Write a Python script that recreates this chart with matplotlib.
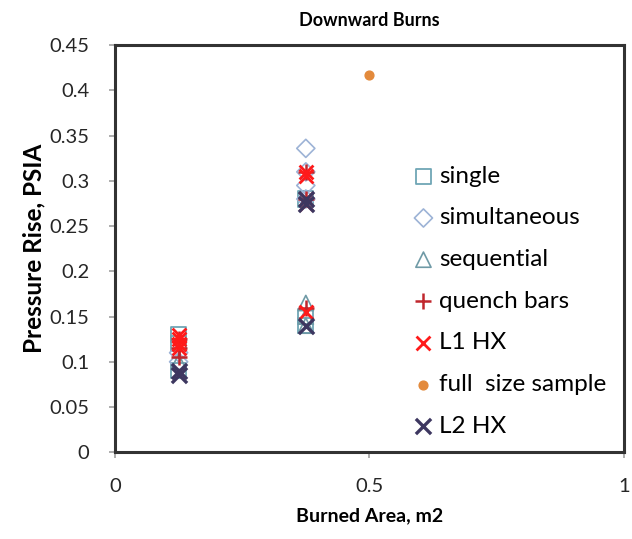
import matplotlib.pyplot as plt
import numpy as np

plt.rcParams['font.family'] = ['Lato', 'DejaVu Sans']

# series values (burned area m2, pressure rise psia)
single_x = [0.125, 0.125, 0.125, 0.375, 0.375, 0.375]
single_y = [0.13, 0.12, 0.09, 0.14, 0.15, 0.28]
simul_x = [0.125, 0.125, 0.375, 0.375, 0.375, 0.375]
simul_y = [0.11, 0.10, 0.336, 0.295, 0.28, 0.31]
seq_x = [0.125, 0.375, 0.375, 0.375]
seq_y = [0.10, 0.165, 0.14, 0.15]
quench_x = [0.125, 0.125, 0.125, 0.375, 0.375, 0.375]
quench_y = [0.125, 0.115, 0.105, 0.16, 0.31, 0.28]
l1_x = [0.125, 0.125, 0.125, 0.125, 0.375, 0.375, 0.375, 0.375, 0.375]
l1_y = [0.13, 0.125, 0.12, 0.115, 0.31, 0.305, 0.275, 0.28, 0.155]
full_x = [0.5]
full_y = [0.417]
l2_x = [0.125, 0.125, 0.375, 0.375, 0.375]
l2_y = [0.09, 0.085, 0.275, 0.28, 0.14]

fig = plt.figure(figsize=(6.32, 5.39), dpi=100)
ax = fig.add_axes([0.182, 0.161, 0.805, 0.755])

ax.scatter(single_x, single_y, marker='s', s=120, facecolors='none',
           edgecolors='#6fa6b5', linewidths=1.3, label='single')
ax.scatter(simul_x, simul_y, marker='D', s=85, facecolors='none',
           edgecolors='#9db3d6', linewidths=1.2, label='simultaneous')
ax.scatter(seq_x, seq_y, marker='^', s=120, facecolors='none',
           edgecolors='#6f9aa6', linewidths=1.2, label='sequential')
ax.scatter(quench_x, quench_y, marker='+', s=120, color='#c0272d',
           linewidths=1.8, label='quench bars')
ax.scatter(l1_x, l1_y, marker='x', s=100, color='#ff1a1a',
           linewidths=2.0, label='L1 HX')
ax.scatter(full_x, full_y, marker='o', s=40, color='#e38a3c',
           label='full  size sample')
ax.scatter(l2_x, l2_y, marker='x', s=120, color='#3d3760',
           linewidths=2.4, label='L2 HX')

ax.set_xlim(0, 1)
ax.set_ylim(0, 0.45)
ax.set_xticks([0, 0.5, 1])
ax.set_xticklabels(['0', '0.5', '1'])
ax.set_yticks(np.arange(0, 0.46, 0.05))
ax.set_yticklabels(['0', '0.05', '0.1', '0.15', '0.2', '0.25', '0.3',
                    '0.35', '0.4', '0.45'])
ax.tick_params(direction='out', length=4.5, color='#a0a0a0', width=1.2,
               labelsize=14.5, labelcolor='#262626')
ax.tick_params(axis='y', pad=14)
ax.tick_params(axis='x', pad=14)
for sp in ax.spines.values():
    sp.set_linewidth(2.2)
    sp.set_color('#333333')

ax.set_title('Downward Burns', fontsize=13, fontweight='bold', pad=14)
ax.set_xlabel('Burned Area, m2', fontsize=14, fontweight='bold', labelpad=9)
ax.set_ylabel('Pressure Rise, PSIA', fontsize=17.5, fontweight='bold', labelpad=3)

ax.legend(loc='upper left', bbox_to_anchor=(0.568, 0.728), frameon=False,
          fontsize=17.5, labelspacing=0.85, handlelength=0.8, handletextpad=0.25,
          borderaxespad=0, scatterpoints=1)

plt.savefig('out.png', dpi=100)
